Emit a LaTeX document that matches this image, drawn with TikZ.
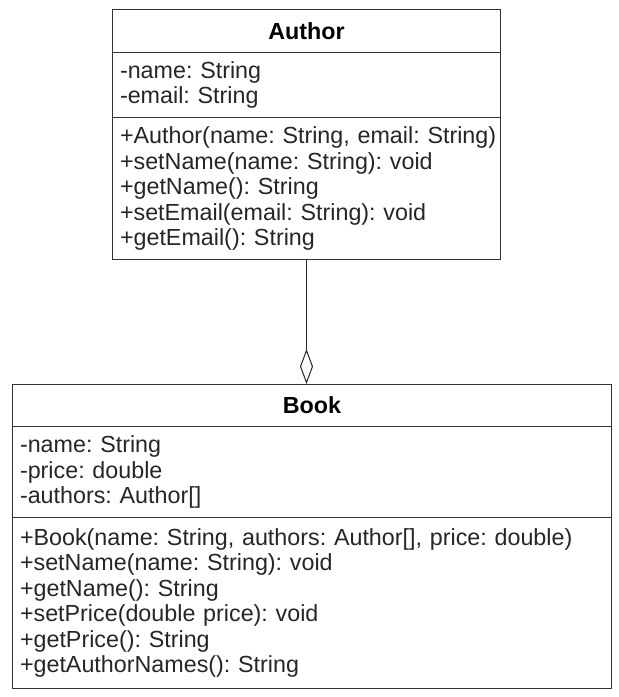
\documentclass[tikz,border=0pt]{standalone}
\usepackage{fontspec}
\setmainfont{Liberation Sans}
\frenchspacing
\usepackage{tikz}
\usetikzlibrary{arrows.meta}
\tikzstyle{umlpart}=[rectangle, draw=black!80, line width=1pt, anchor=north west, inner xsep=7.5pt, inner ysep=0pt, align=left, text=black!85, font=\fontsize{23.3}{25.5}\selectfont]
\tikzstyle{umltitle}=[umlpart, align=center, text=black, font=\fontsize{23.3}{25.5}\selectfont\bfseries]

\begin{document}
\begin{tikzpicture}[x=1pt, y=-1pt]
            \useasboundingbox (0,0) rectangle (619,697);
            % clase Author
            \node[umltitle, text width=373pt, minimum height=43pt] (a-title) at (112,9) {Author};
            \node[umlpart, text width=373pt, minimum height=65pt] (a-attr) at (112,52) {-name: String\\-email: String};
            \node[umlpart, text width=373pt, minimum height=142pt] (a-ops) at (112,117) {\mbox{+Author(name: String, email: String)}\\+setName(name: String): void\\+getName(): String\\+setEmail(email: String): void\\+getEmail(): String};

            % clase Book
            \node[umltitle, text width=584pt, minimum height=42pt] (b-title) at (12,384) {Book};
            \node[umlpart, text width=584pt, minimum height=91pt] (b-attr) at (12,426) {-name: String\\-price: double\\-authors: Author[]};
            \node[umlpart, text width=584pt, minimum height=171pt] (b-ops) at (12,517) {+Book(name: String, authors: Author[], price: double)\\+setName(name: String): void\\+getName(): String\\+setPrice(double price): void\\+getPrice(): String\\+getAuthorNames(): String};

            % agregacion
            \draw[line width=0.8pt, draw=black!85, -{Diamond[open, length=35pt, width=13pt, line width=1pt]}] (a-ops.south) -- (a-ops.south |- b-title.north);
        \end{tikzpicture}
\end{document}
